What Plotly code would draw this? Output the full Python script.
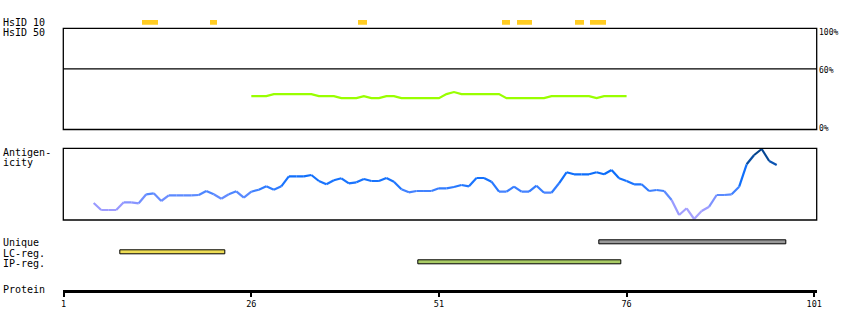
import plotly.graph_objects as go

# ---------------- data ----------------
positions_ticks = [1, 26, 51, 76, 101]

# HsID 10 hits (start, end residue)
hsid10_start = [11.43, 20.5, 40.3, 59.4, 61.4, 69.2, 71.2]
hsid10_end = [13.56, 21.5, 41.5, 60.5, 63.5, 70.4, 73.3]

# HsID 50 identity (%) per residue
hsid50_pos = list(range(26, 77))
hsid50_val = [33, 33, 33, 35, 35, 35, 35, 35, 35, 33, 33, 33, 31, 31, 31, 33, 31, 31,
              33, 33, 31, 31, 31, 31, 31, 31, 35, 37, 35, 35, 35, 35, 35, 35, 31, 31,
              31, 31, 31, 31, 33, 33, 33, 33, 33, 33, 31, 33, 33, 33, 33]

# Antigenicity per residue (relative score)
anti_pos = list(range(5, 97))
anti_val = [17, 10, 10, 10, 17.7, 17.7, 16.7, 25.7, 26.7, 19, 24.7, 24.7, 24.7, 24.7, 25, 29,
            25.7, 21.3, 25.7, 28.7, 22.3, 28.3, 30.3, 33.7, 30.3, 33.7, 43.7, 43.7, 43.7, 45,
            39, 35.7, 39.7, 41.7, 36.7, 37.7, 41, 39, 39, 42, 38.3, 30.7, 27.7, 29, 29, 29,
            31.7, 31.7, 33, 35, 33.7, 42, 42, 38.3, 28.3, 28.3, 33.3, 28.3, 28.3, 34.3, 27.3,
            27.3, 36.7, 47.7, 45.7, 45.7, 45.7, 47.7, 45.7, 50, 41.7, 39, 35.7, 35.7, 29, 30,
            29, 20, 5, 11.7, 1, 9, 13.3, 25, 25, 25.7, 33.3, 55.7, 65, 71, 59, 55]

# Regions
region_names = ["Unique", "LC-reg.", "IP-reg."]
region_start = [72.4, 8.5, 48.3]
region_end = [97.3, 22.6, 75.3]
region_colors = ["#999999", "#eedd55", "#aacc66"]

# ---------------- layout helpers ----------------
W, H = 850, 330
def px(x):
    return x / W
def py(y):
    return 1 - y / H

X_RANGE = [0.95, 101.33]
MONO = "DejaVu Sans Mono"

def lerp_color(v):
    stops = [(0, (176, 168, 255)), (15, (150, 152, 255)), (25, (90, 138, 255)),
             (35, (30, 118, 255)), (48, (10, 108, 250)), (58, (10, 80, 170)), (72, (0, 60, 125))]
    if v <= stops[0][0]:
        c = stops[0][1]
    elif v >= stops[-1][0]:
        c = stops[-1][1]
    else:
        for (a, ca), (b, cb) in zip(stops[:-1], stops[1:]):
            if a <= v <= b:
                t = (v - a) / (b - a)
                c = tuple(round(ca[i] + (cb[i] - ca[i]) * t) for i in range(3))
                break
    return "rgb(%d,%d,%d)" % c

fig = go.Figure()

# HsID 10 bars
fig.add_trace(go.Bar(
    y=[0.5] * len(hsid10_start),
    x=[e - s for s, e in zip(hsid10_start, hsid10_end)],
    base=hsid10_start, orientation="h", width=1,
    marker=dict(color="#ffcc22", line=dict(width=0)),
    xaxis="x", yaxis="y", showlegend=False, hoverinfo="skip"))

# HsID 50 line
fig.add_trace(go.Scatter(
    x=hsid50_pos, y=hsid50_val, mode="lines", line=dict(color="#99ff00", width=2.2),
    xaxis="x", yaxis="y2", showlegend=False, hoverinfo="skip"))

# Antigenicity segments colored by value
for i in range(len(anti_pos) - 1):
    v = (anti_val[i] + anti_val[i + 1]) / 2
    fig.add_trace(go.Scatter(
        x=anti_pos[i:i + 2], y=anti_val[i:i + 2], mode="lines",
        line=dict(color=lerp_color(v), width=2.2),
        xaxis="x", yaxis="y3", showlegend=False, hoverinfo="skip"))

# Region bars
region_rows = [2.5, 1.5, 0.5]
for name, s, e, c, r in zip(region_names, region_start, region_end, region_colors, region_rows):
    fig.add_trace(go.Bar(
        y=[r], x=[e - s], base=[s], orientation="h", width=0.32,
        marker=dict(color=c, line=dict(color="black", width=1)),
        xaxis="x", yaxis="y4", showlegend=False, hoverinfo="skip"))

# invisible anchor trace for the protein axis subplot
fig.add_trace(go.Scatter(x=[positions_ticks[0]], y=[0], mode="markers", marker=dict(opacity=0),
                         xaxis="x", yaxis="y5", showlegend=False, hoverinfo="skip"))

shapes = [
    dict(type="rect", xref="x domain", yref="y2 domain", x0=0, x1=1, y0=0, y1=1,
         line=dict(color="black", width=1.3)),
    dict(type="line", xref="x domain", yref="y2", x0=0, x1=1, y0=60, y1=60,
         line=dict(color="black", width=1.3)),
    dict(type="rect", xref="x domain", yref="y3 domain", x0=0, x1=1, y0=0, y1=1,
         line=dict(color="black", width=1.3)),
]

annotations = []
def label(text, y, x=1, size=10, xanchor="left"):
    annotations.append(dict(text=text, x=px(x), y=py(y), xref="paper", yref="paper",
                            xanchor=xanchor, yanchor="middle", showarrow=False,
                            font=dict(family=MONO, size=size, color="black")))

label("HsID 10", 22.5)
label("HsID 50", 32.5)
label("Antigen-", 152.5)
label("icity", 162.5)
label("Unique", 242.5)
label("LC-reg.", 253)
label("IP-reg.", 263)
label("Protein", 289.5)
label("100%", 32.5, x=817, size=8)
label("60%", 70.5, x=817, size=8)
label("0%", 128.5, x=817, size=8)

hidden = dict(visible=False, anchor="x", fixedrange=True, automargin=False)
fig.update_layout(
    width=W, height=H, autosize=False, margin=dict(l=0, r=0, t=0, b=0, pad=0, autoexpand=False),
    paper_bgcolor="white", plot_bgcolor="rgba(0,0,0,0)",
    barmode="overlay", bargap=0,
    shapes=shapes, annotations=annotations,
    xaxis=dict(domain=[px(63.3), px(816.7)], range=X_RANGE, anchor="y5", side="bottom",
               showline=True, linecolor="black", linewidth=3,
               tickmode="array", tickvals=positions_ticks, ticktext=[str(t) for t in positions_ticks],
               ticks="outside", ticklen=4, tickwidth=1.5, tickcolor="black",
               tickfont=dict(family=MONO, size=8.5, color="black"),
               showgrid=False, zeroline=False, fixedrange=True, automargin=False),
    yaxis=dict(domain=[py(24.7), py(20)], range=[0, 1], **hidden),
    yaxis2=dict(domain=[py(129.5), py(28.3)], range=[0, 100], **hidden),
    yaxis3=dict(domain=[py(220), py(148.3)], range=[0, 71.7], **hidden),
    yaxis4=dict(domain=[py(267.3), py(237.3)], range=[0, 3], **hidden),
    yaxis5=dict(domain=[py(289.5), py(284)], range=[0, 1], **hidden),
)

fig.write_html("out.html", config={"displayModeBar": False})
